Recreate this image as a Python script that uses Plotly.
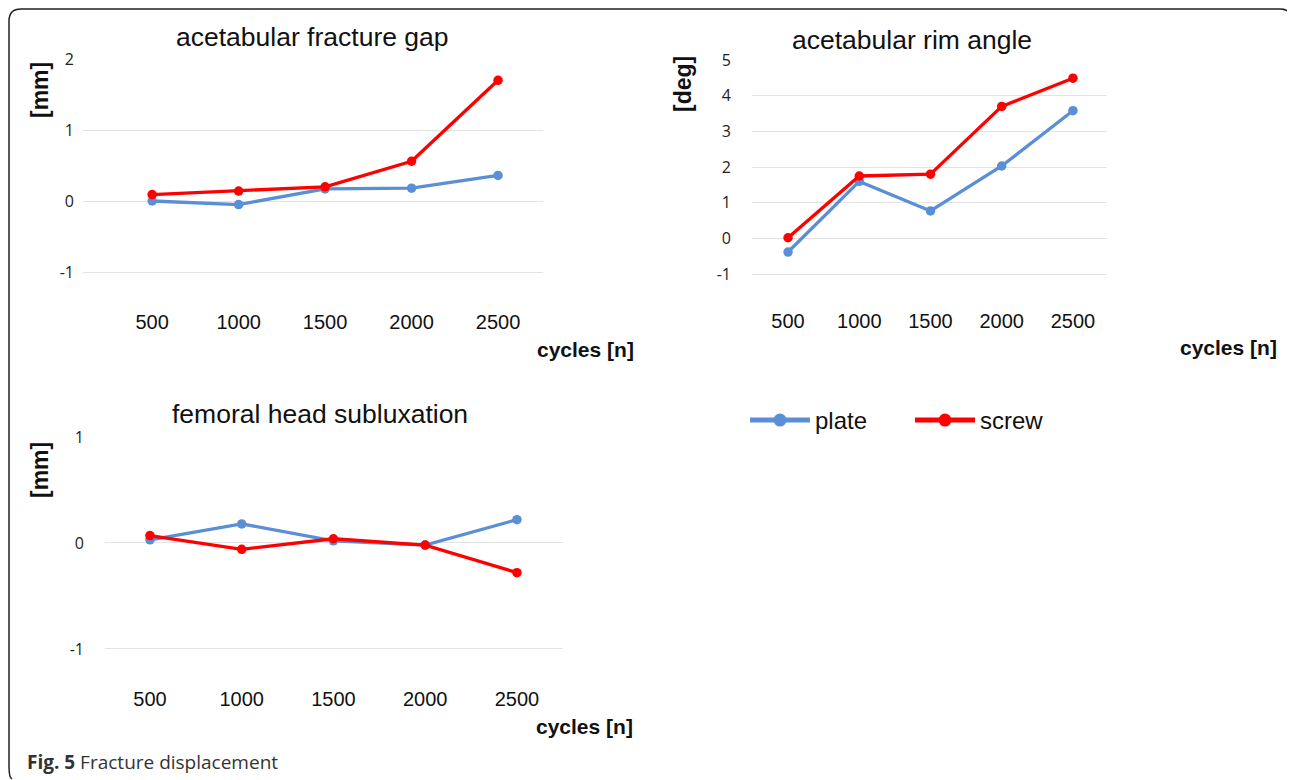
import plotly.graph_objects as go

# page body has an 8px margin; size the figure to fit the 1295x780 window exactly
OFF = 8
W, H = 1295 - OFF, 780 - OFF

cycles = [500, 1000, 1500, 2000, 2500]
tick_labels = ["500", "1000", "1500", "2000", "2500"]

gap_plate = [0.0, -0.05, 0.17, 0.18, 0.36]
gap_screw = [0.09, 0.14, 0.20, 0.56, 1.70]

rim_plate = [-0.38, 1.60, 0.77, 2.03, 3.58]
rim_screw = [0.02, 1.75, 1.80, 3.70, 4.49]

sub_plate = [0.03, 0.18, 0.02, -0.02, 0.22]
sub_screw = [0.07, -0.06, 0.04, -0.02, -0.28]

BLUE = "#5A8FD6"
RED = "#FF0000"
GRID = "#E3E3E3"


def px(x):
    return (x - OFF) / W


def py(y):
    return 1 - (y - OFF) / H


fig = go.Figure()

panels = [
    ("x", "y", gap_plate, gap_screw),
    ("x2", "y2", rim_plate, rim_screw),
    ("x3", "y3", sub_plate, sub_screw),
]
for xa, ya, p, s in panels:
    fig.add_trace(go.Scatter(x=cycles, y=p, xaxis=xa, yaxis=ya, mode="lines+markers",
                             name="plate", legendgroup="plate", showlegend=False,
                             line=dict(color=BLUE, width=3.3), marker=dict(color=BLUE, size=9.5)))
    fig.add_trace(go.Scatter(x=cycles, y=s, xaxis=xa, yaxis=ya, mode="lines+markers",
                             name="screw", legendgroup="screw", showlegend=False,
                             line=dict(color=RED, width=3.3), marker=dict(color=RED, size=9.5)))

# legend entries (drawn with the thicker legend style of the original)
for name, col in (("plate", BLUE), ("screw", RED)):
    fig.add_trace(go.Scatter(x=[None], y=[None], mode="lines+markers", name=name,
                             legendgroup=name, showlegend=True, hoverinfo="skip",
                             line=dict(color=col, width=5), marker=dict(color=col, size=13)))

xfont = dict(family="Liberation Sans, Arial, sans-serif", size=20, color="#111")
yfont = dict(family="Open Sans, sans-serif", size=16, color="#222")


def xaxis(dom, rng):
    return dict(domain=dom, range=rng, tickmode="array", tickvals=cycles, ticktext=tick_labels,
                showgrid=False, zeroline=False, showline=False, ticks="", tickfont=xfont,
                fixedrange=True)


def yaxis(dom, rng, vals, anchor, standoff):
    return dict(domain=dom, range=rng, tickmode="array", tickvals=vals,
                ticktext=[str(v) for v in vals], showgrid=True, gridcolor=GRID,
                gridwidth=1.2, zeroline=False, showline=False, ticks="", tickfont=yfont,
                anchor=anchor, ticklabelstandoff=standoff, fixedrange=True)


fig.update_layout(
    width=W, height=H,
    margin=dict(l=0, r=0, t=0, b=0, pad=0, autoexpand=False),
    paper_bgcolor="white", plot_bgcolor="white",
    xaxis=xaxis([px(83), px(543)], [100, 2760]),
    yaxis=yaxis([py(307.5), py(59)], [-1.5, 2.0], [-1, 0, 1, 2], "x", 8),
    xaxis2=xaxis([px(752), px(1107)], [247, 2739]) | dict(anchor="y2"),
    yaxis2=yaxis([py(307), py(60)], [-1.92, 5.0], [-1, 0, 1, 2, 3, 4, 5], "x2", 20),
    xaxis3=xaxis([px(105), px(563)], [255, 2751]) | dict(anchor="y3"),
    yaxis3=yaxis([py(685), py(437)], [-1.34, 1.0], [-1, 0, 1], "x3", 20),
    showlegend=True,
    legend=dict(orientation="h", x=px(745), y=py(398), xanchor="left", yanchor="top",
                font=dict(family="Liberation Sans, Arial, sans-serif", size=24, color="#111"),
                itemwidth=60, entrywidth=90, bgcolor="rgba(0,0,0,0)"),
)

title_font = dict(family="Liberation Sans, Arial, sans-serif", size=26.5, color="#111")
bold_font = dict(family="Liberation Sans, Arial, sans-serif", size=21, color="#111")
axis_font = dict(family="Liberation Sans, Arial, sans-serif", size=23, color="#111")

annotations = [
    dict(text="acetabular fracture gap", x=px(312), y=py(37), font=title_font),
    dict(text="acetabular rim angle", x=px(912), y=py(40), font=title_font),
    dict(text="femoral head subluxation", x=px(320), y=py(414), font=title_font),
    dict(text="<b>[mm]</b>", x=px(40), y=py(90), font=axis_font, textangle=-90),
    dict(text="<b>[deg]</b>", x=px(683), y=py(84), font=axis_font, textangle=-90),
    dict(text="<b>[mm]</b>", x=px(40), y=py(470), font=axis_font, textangle=-90),
    dict(text="<b>cycles [n]</b>", x=px(585), y=py(349), font=bold_font),
    dict(text="<b>cycles [n]</b>", x=px(1228), y=py(347), font=bold_font),
    dict(text="<b>cycles [n]</b>", x=px(584), y=py(726), font=bold_font),
    dict(text="<b>Fig. 5</b> Fracture displacement", x=px(25), y=py(762), xanchor="left",
         font=dict(family="Open Sans, sans-serif", size=19, color="#333")),
]
for a in annotations:
    a.setdefault("xanchor", "center")
    a.update(xref="paper", yref="paper", yanchor="middle", showarrow=False)
fig.update_layout(annotations=annotations)

# rounded frame
L, T, R, B, r = 9, 9, 1292, 778, 12
path = (f"M {px(L)},{py(B - r)} L {px(L)},{py(T + r)} Q {px(L)},{py(T)} {px(L + r)},{py(T)} "
        f"L {px(R - r)},{py(T)} Q {px(R)},{py(T)} {px(R)},{py(T + r)} L {px(R)},{py(B - r)} "
        f"Q {px(R)},{py(B)} {px(R - 3)},{py(B + 1)}")
pathL = f"M {px(L)},{py(B - r)} Q {px(L)},{py(B)} {px(L + 3)},{py(B + 1)}"
fig.add_shape(type="path", path=path, xref="paper", yref="paper",
              line=dict(color="#222", width=1.5))
fig.add_shape(type="path", path=pathL, xref="paper", yref="paper",
              line=dict(color="#222", width=1.5))

fig.write_html("out.html")
